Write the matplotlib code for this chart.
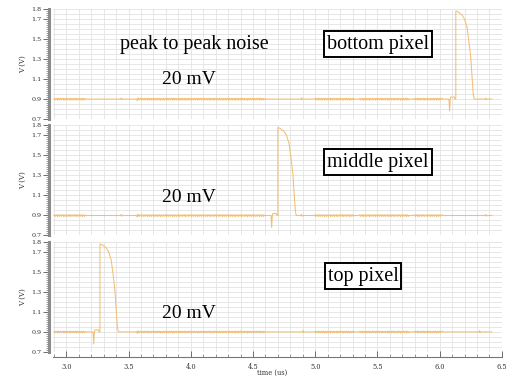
import numpy as np
import matplotlib.pyplot as plt
from matplotlib.ticker import MultipleLocator, FixedLocator

# time window of the transient sweep (us)
t_start, t_stop = 2.9, 6.42

# windows where the 0.9 V line shows switching ripple (shared by all pixels)
burst_windows = [(2.90, 3.15), (3.57, 4.59), (4.99, 5.31), (5.35, 5.75), (5.79, 6.02)]
# one ripple period, repeated through each window (20 mV peak to peak)
ripple = [0.003, 0.007, -0.010, 0.004, 0.002, 0.008, -0.012, 0.003, 0.006, -0.008]

# isolated glitches: (time, offset in V)
blips = {
    'bottom': [(3.44, 0.012), (3.57, -0.014), (4.89, 0.013), (6.37, 0.011)],
    'middle': [(3.44, 0.012), (3.57, -0.014), (4.89, 0.013), (6.37, 0.011)],
    'top': [(3.57, -0.014), (4.90, 0.013), (6.32, 0.012)],
}

# rising edge of the readout pulse for each pixel (us)
rise_time = {'bottom': 6.13, 'middle': 4.70, 'top': 3.27}

# pulse vertices relative to the rising edge: (dt, V)
pulse_dt = [-0.055, -0.05, -0.045, -0.04, -0.012, -0.006, 0.0, 0.0,
            0.02, 0.05, 0.07, 0.09, 0.105, 0.12, 0.14, 0.148]
pulse_v = [0.90, 0.78, 0.90, 0.92, 0.92, 0.90, 0.90, 1.78,
           1.77, 1.74, 1.70, 1.62, 1.48, 1.32, 0.95, 0.90]

panels = ['bottom', 'middle', 'top']
box_text = {'bottom': 'bottom pixel', 'middle': 'middle pixel', 'top': 'top pixel'}

line_color = '#f2bf72'
grid_color = '#e3e3e3'
serif = ['Liberation Serif', 'DejaVu Serif']
tick_font = ['DejaVu Serif']


def build_trace(name):
    step = 0.005
    t = np.arange(t_start, t_stop + 1e-9, step)
    v = np.full_like(t, 0.9)
    for a, b in burst_windows:
        idx = np.where((t >= a) & (t <= b))[0]
        for k, i in enumerate(idx):
            v[i] += ripple[k % len(ripple)]
    for bt, dv in blips[name]:
        i = np.argmin(np.abs(t - bt))
        v[i] += dv
        if i + 1 < len(v):
            v[i + 1] -= dv * 0.6
    tr = rise_time[name]
    before = t < tr + pulse_dt[0]
    after = t > tr + pulse_dt[-1]
    t_all = np.concatenate([t[before], tr + np.array(pulse_dt), t[after]])
    v_all = np.concatenate([v[before], np.array(pulse_v), v[after]])
    return t_all, v_all


fig = plt.figure(figsize=(5.1, 3.78), dpi=100)

left, width, height = 0.104, 0.880, 0.291
bottoms = [0.685, 0.377, 0.069]

for name, bottom in zip(panels, bottoms):
    ax = fig.add_axes([left, bottom, width, height])
    t, v = build_trace(name)
    ax.plot(t, v, color=line_color, lw=0.75)

    ax.set_xlim(2.893, 6.5)
    ax.set_ylim(0.7, 1.8)

    ax.xaxis.set_major_locator(MultipleLocator(0.5))
    ax.xaxis.set_minor_locator(MultipleLocator(0.1))
    ax.yaxis.set_major_locator(FixedLocator([0.7, 0.9, 1.1, 1.3, 1.5, 1.7, 1.8]))
    ax.yaxis.set_minor_locator(MultipleLocator(0.02))
    ax.set_yticklabels(['0.7', '0.9', '1.1', '1.3', '1.5', '1.7', '1.8'])

    # light grid: 0.1 us by 0.05 V
    for gx in np.arange(2.9, 6.51, 0.1):
        ax.axvline(gx, color=grid_color, lw=0.6, zorder=0)
    for gy in np.arange(0.7, 1.81, 0.05):
        ax.axhline(gy, color=grid_color, lw=0.6, zorder=0)

    for s in ['top', 'right']:
        ax.spines[s].set_visible(False)
    ax.spines['left'].set_position(('outward', 3))
    ax.spines['left'].set_color('#8c8c8c')
    ax.spines['left'].set_linewidth(2.2)
    ax.tick_params(axis='y', which='major', length=4, width=0.6, color='#555555',
                   labelsize=4.6, pad=1.5, labelcolor='#333333')
    ax.tick_params(axis='y', which='minor', length=2, width=0.5, color='#777777')
    for lab in ax.get_yticklabels():
        lab.set_family(tick_font)
    ax.set_ylabel('V (V)', fontsize=5, family=tick_font, labelpad=3, color='#333333')

    if name == 'top':
        ax.spines['bottom'].set_position(('outward', 4))
        ax.spines['bottom'].set_color('#777777')
        ax.spines['bottom'].set_linewidth(0.8)
        ax.tick_params(axis='x', which='major', direction='in', length=4, width=0.6,
                       color='#555555', labelsize=4.8, pad=4, labelcolor='#333333')
        ax.tick_params(axis='x', which='minor', direction='in', length=2.5, width=0.5,
                       color='#666666')
        for lab in ax.get_xticklabels():
            lab.set_family(tick_font)
    else:
        ax.spines['bottom'].set_visible(False)
        ax.tick_params(axis='x', which='both', bottom=False, labelbottom=False)

fig.text(272 / 510, 1 - 373 / 378, 'time (us)', family=tick_font, fontsize=4.8,
         ha='center', va='center', color='#333333')

# annotations
fig.text(194 / 510, 1 - 45 / 378, 'peak to peak noise', family=serif, fontsize=14.5,
         ha='center', va='center')
for y in [80, 197, 314]:
    fig.text(189 / 510, 1 - y / 378, '20 mV', family=serif, fontsize=14,
             ha='center', va='center')

box_pos = {'bottom': (378, 44), 'middle': (378, 162), 'top': (363, 276)}
for name in panels:
    x, y = box_pos[name]
    fig.text(x / 510, 1 - y / 378, box_text[name], family=serif, fontsize=14.5,
             ha='center', va='center',
             bbox=dict(boxstyle='square,pad=0.15', facecolor='white',
                       edgecolor='black', linewidth=1.4))

fig.savefig('out.png', dpi=100)
